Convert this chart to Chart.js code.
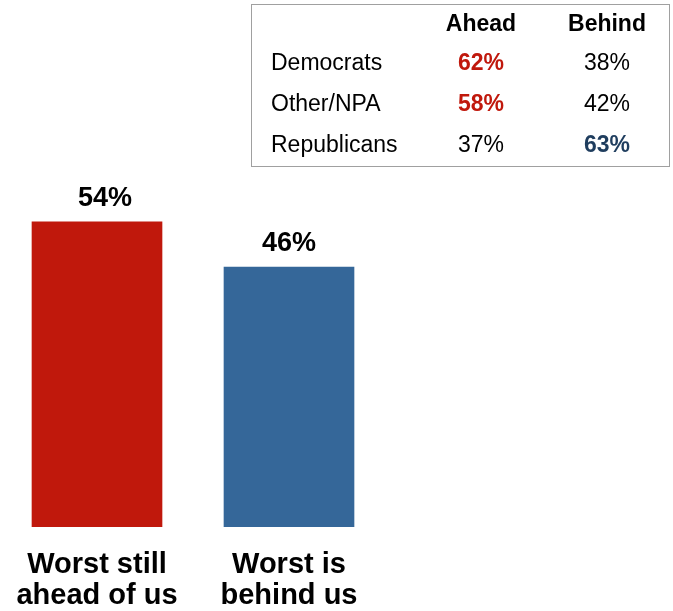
<!DOCTYPE html>
<html lang="en">
<head>
  <meta charset="UTF-8" />
  <title>Worst ahead or behind</title>
  <script src="https://cdn.jsdelivr.net/npm/chart.js"></script>
  <style>
    html, body { margin: 0; padding: 0; background: #fff; }
    body { width: 673px; height: 611px; position: relative; overflow: hidden;
      font-family: 'Liberation Sans', Arial, sans-serif; color: #000; }
    #wrap { position: absolute; left: 0; top: 0; width: 673px; height: 611px; }
    .box {
      position: absolute; left: 251px; top: 4px; width: 417px; height: 161px;
      border: 1.5px solid #a0a0a0;
    }
    .grid {
      display: grid; grid-template-columns: 175px 108px 136px;
      font-size: 23px;
    }
    .grid div { line-height: 41px; height: 41px; white-space: nowrap; }
    .grid .hd { font-weight: bold; line-height: 37px; height: 37px; }
    .grid .lbl { padding-left: 19px; }
    .grid .c1 { text-align: center; }
    .grid .c2 { text-align: center; padding-left: 8px; }
    .grid .hi { font-weight: bold; }
  </style>
</head>
<body>
  <div id="wrap"><canvas id="chart"></canvas></div>
  <div class="box"><div class="grid" id="tbl"></div></div>

  <script>
    // main bars
    const categories = [['Worst still', 'ahead of us'], ['Worst is', 'behind us']];
    const values = [54, 46];
    const barColors = ['#c0180c', '#356799'];

    // party breakdown table
    const tableHeaders = ['', 'Ahead', 'Behind'];
    const parties = ['Democrats', 'Other/NPA', 'Republicans'];
    const ahead = [62, 58, 37];
    const behind = [38, 42, 63];

    // build the table
    const tbl = document.getElementById('tbl');
    tableHeaders.forEach((h, i) => {
      const d = document.createElement('div');
      d.className = 'hd ' + (i === 0 ? 'lbl' : 'c' + i);
      d.textContent = h;
      tbl.appendChild(d);
    });
    parties.forEach((p, i) => {
      const a = ahead[i], b = behind[i];
      const cells = [
        { cls: 'lbl', txt: p, color: '#000' },
        { cls: 'c1' + (a > b ? ' hi' : ''), txt: a + '%', color: a > b ? '#c0180c' : '#000' },
        { cls: 'c2' + (b > a ? ' hi' : ''), txt: b + '%', color: b > a ? '#1f3d5e' : '#000' }
      ];
      cells.forEach(c => {
        const d = document.createElement('div');
        d.className = c.cls;
        d.style.color = c.color;
        d.textContent = c.txt;
        tbl.appendChild(d);
      });
    });

    // percent labels above bars (first one sits a bit right of centre in the original)
    const valueLabels = {
      id: 'valueLabels',
      afterDatasetsDraw(chart) {
        const ctx = chart.ctx;
        const meta = chart.getDatasetMeta(0);
        const nudge = [8, 0];
        ctx.save();
        ctx.font = "bold 27px 'Liberation Sans', Arial, sans-serif";
        ctx.fillStyle = '#000';
        ctx.textAlign = 'center';
        ctx.textBaseline = 'alphabetic';
        meta.data.forEach((bar, i) => {
          ctx.fillText(values[i] + '%', bar.x + nudge[i], bar.y - 16);
        });
        ctx.restore();
      }
    };

    new Chart(document.getElementById('chart').getContext('2d'), {
      type: 'bar',
      data: {
        labels: categories,
        datasets: [{
          data: values,
          backgroundColor: barColors,
          borderWidth: 0,
          barThickness: 130
        }]
      },
      options: {
        responsive: true,
        maintainAspectRatio: false,
        animation: false,
        layout: { padding: { left: 1, right: 288, top: 188, bottom: 0 } },
        plugins: { legend: { display: false }, tooltip: { enabled: false } },
        scales: {
          x: {
            // invisible tick marks just push the labels down a little
            grid: { display: true, drawOnChartArea: false, drawTicks: true, tickLength: 9, color: 'rgba(0,0,0,0)' },
            border: { display: false },
            ticks: {
              color: '#000',
              padding: 13,
              font: { family: "'Liberation Sans', Arial, sans-serif", size: 29, weight: 'bold', lineHeight: 1.08 }
            },
            afterFit(scale) { scale.height = 84; }
          },
          y: { display: false, min: 0, max: 60 }
        }
      },
      plugins: [valueLabels]
    });
  </script>
</body>
</html>
